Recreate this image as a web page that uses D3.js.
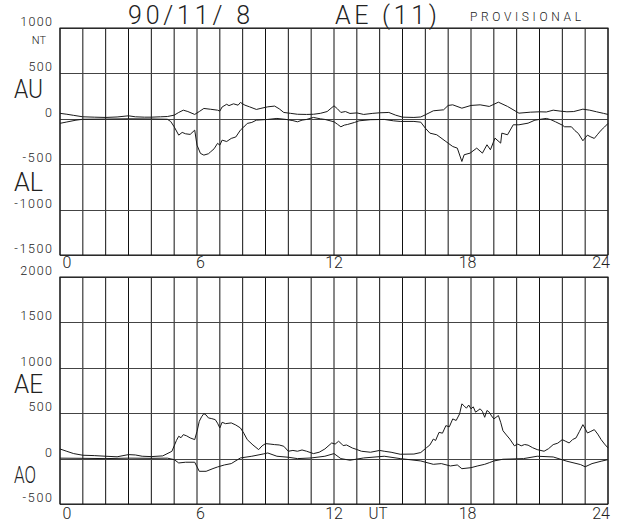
<!DOCTYPE html>
<html><head><meta charset="utf-8">
<script src="https://cdn.jsdelivr.net/npm/d3@7"></script>
<style>body{margin:0;background:#fff}svg{display:block}</style>
</head><body>
<svg id="c" width="631" height="529"></svg>
<script>
// ---- data (hours UT, nT) ----
const hourTicks = [0, 6, 12, 18, 24];
const topTicks = [1000, 500, 0, -500, -1000, -1500];
const botTicks = [2000, 1500, 1000, 500, 0, -500];
const AU = [[0,60],[0.3,50],[0.6,38],[1,22],[1.5,18],[2,15],[2.5,20],[3,33],[3.3,22],[3.7,18],[4,18],[4.4,22],[4.7,25],[5,40],[5.2,70],[5.4,95],[5.6,80],[5.9,48],[6.1,80],[6.3,114],[6.6,105],[6.9,95],[7,85],[7.1,130],[7.3,160],[7.4,145],[7.6,165],[7.8,150],[7.9,180],[8.1,150],[8.3,132],[8.6,103],[8.8,115],[9.1,132],[9.4,140],[9.6,110],[9.8,70],[10.1,60],[10.4,50],[10.8,48],[11.1,50],[11.4,60],[11.7,80],[12,143],[12.15,110],[12.3,70],[12.5,80],[12.7,59],[13,65],[13.3,48],[13.7,60],[14,66],[14.4,70],[14.7,40],[15,18],[15.5,15],[15.8,20],[16,44],[16.35,88],[16.8,99],[17,147],[17.2,154],[17.6,117],[18,147],[18.4,154],[18.8,136],[19.2,183],[19.6,136],[20.1,62],[20.6,73],[21,77],[21.3,75],[21.6,95],[21.9,85],[22.2,77],[22.5,80],[22.9,106],[23.2,95],[23.5,77],[23.8,60],[24,48]];
const AL = [[0,-50],[0.3,-35],[0.7,-15],[1,-5],[2,-3],[3,0],[4,-2],[4.7,-5],[4.85,-30],[5,-88],[5.2,-180],[5.35,-150],[5.5,-165],[5.7,-172],[5.9,-125],[6,-290],[6.15,-381],[6.3,-400],[6.5,-385],[6.6,-363],[6.75,-330],[6.9,-270],[7,-290],[7.1,-235],[7.3,-250],[7.5,-216],[7.7,-200],[7.9,-125],[8.05,-90],[8.2,-51],[8.4,-40],[8.6,-15],[9.1,-7],[9.5,4],[9.9,-7],[10.2,-20],[10.4,-33],[10.6,-15],[10.8,-7],[11.1,15],[11.4,0],[11.6,-7],[12,-33],[12.15,-60],[12.3,-88],[12.45,-70],[12.6,-62],[12.9,-40],[13.1,-22],[13.6,-10],[14.2,-7],[14.6,-22],[14.9,-29],[15.5,-29],[15.8,-37],[16,-103],[16.2,-158],[16.5,-176],[16.9,-250],[17.2,-305],[17.4,-323],[17.6,-470],[17.7,-396],[17.96,-378],[18.25,-323],[18.5,-378],[18.7,-286],[18.85,-341],[19.05,-213],[19.3,-268],[19.35,-158],[19.6,-176],[19.85,-66],[20.1,-66],[20.5,-48],[20.8,-15],[21,-7],[21.3,4],[21.5,-10],[21.7,-33],[22,-70],[22.1,-88],[22.4,-88],[22.55,-130],[22.7,-161],[22.9,-242],[23.1,-180],[23.25,-200],[23.4,-216],[23.55,-170],[23.7,-125],[23.85,-90],[24,-51]];
const AE = [[0,106],[0.3,80],[0.6,55],[1,37],[1.5,33],[2,26],[2.5,20],[3,44],[3.3,40],[3.6,26],[4,22],[4.5,30],[4.9,80],[5.1,200],[5.2,246],[5.3,230],[5.4,264],[5.55,250],[5.7,228],[5.9,209],[6.0,300],[6.1,411],[6.2,460],[6.3,495],[6.4,480],[6.5,448],[6.65,440],[6.8,429],[6.9,390],[7,338],[7.1,400],[7.25,385],[7.5,393],[7.7,370],[7.9,338],[8.05,280],[8.2,209],[8.45,150],[8.7,99],[8.85,140],[9,165],[9.2,160],[9.4,154],[9.6,150],[9.8,136],[10,81],[10.2,90],[10.4,81],[10.6,95],[10.8,81],[11.1,55],[11.35,70],[11.6,106],[11.9,172],[12.05,160],[12.2,191],[12.3,170],[12.4,143],[12.55,150],[12.8,117],[13,100],[13.2,81],[13.6,70],[14,90],[14.2,81],[14.5,70],[14.9,48],[15.5,50],[15.8,67],[16.06,122],[16.2,150],[16.35,215],[16.45,200],[16.6,289],[16.75,280],[16.9,363],[17.05,350],[17.2,437],[17.35,420],[17.5,492],[17.6,603],[17.7,580],[17.8,555],[17.9,590],[18,548],[18.1,570],[18.2,511],[18.4,548],[18.5,520],[18.6,455],[18.7,530],[18.8,511],[18.9,470],[19,437],[19.2,474],[19.3,400],[19.4,307],[19.55,260],[19.7,215],[19.9,141],[20.05,160],[20.2,141],[20.35,155],[20.5,148],[20.7,120],[20.9,99],[21.2,81],[21.4,110],[21.6,154],[21.8,170],[22,209],[22.15,190],[22.3,172],[22.45,210],[22.6,228],[22.75,300],[22.9,374],[23,330],[23.1,282],[23.25,300],[23.4,319],[23.55,270],[23.7,209],[23.85,160],[24,117]];
const AO = [[0,5],[1,3],[2,0],[3,5],[4,3],[4.7,5],[5,-11],[5.2,-48],[5.5,-40],[5.9,-40],[6.1,-140],[6.4,-140],[6.7,-110],[6.9,-92],[7.2,-70],[7.5,-55],[7.9,7],[8.4,26],[8.9,51],[9.1,62],[9.5,26],[10,15],[10.4,0],[11,7],[11.6,26],[12,55],[12.3,0],[12.7,-18],[13.3,7],[14.2,26],[14.9,0],[15.8,-26],[16.35,-63],[16.7,-55],[17.1,-81],[17.4,-70],[17.6,-111],[18,-100],[18.3,-80],[18.6,-63],[18.8,-45],[19,-26],[19.4,-7],[20.3,0],[20.9,26],[21.6,18],[22.2,-29],[22.8,-66],[23,-90],[23.3,-55],[23.7,-29],[24,-11]];

// ---- layout ----
const svg = d3.select("#c");
const FONT = "Roboto, Lato, 'DejaVu Sans', sans-serif";
const ink = "#222";
const x = d3.scaleLinear().domain([0, 24]).range([60, 608]);
const xLab = d3.scaleLinear().domain([0, 24]).range([67, 601]);
const yTop = d3.scaleLinear().domain([-1500, 1000]).range([255, 28]);
const yBot = d3.scaleLinear().domain([-500, 2000]).range([504, 277]);

function txt(s, px, py, size, opts = {}) {
  const t = svg.append("text").attr("x", px).attr("y", py)
    .attr("font-family", FONT).attr("font-size", size)
    .attr("font-weight", opts.weight || 300)
    .attr("fill", ink).attr("text-anchor", opts.anchor || "start").text(s);
  if (opts.len) t.attr("textLength", opts.len).attr("lengthAdjust", opts.adj || "spacingAndGlyphs");
  return t;
}

function tickLen(s) {
  if (s.length < 2) return null;
  let n = 0;
  for (const c of s) n += (c === "-") ? 6 : 8.2;
  return n - 1;
}

function panel(y, ticks, series) {
  const g = svg.append("g");
  g.selectAll(".v").data(d3.range(0, 25)).join("line")
    .attr("x1", d => x(d)).attr("x2", d => x(d))
    .attr("y1", y.range()[1]).attr("y2", y.range()[0])
    .attr("stroke", "#111").attr("stroke-width", 1);
  g.selectAll(".h").data(ticks).join("line")
    .attr("x1", x(0)).attr("x2", x(24))
    .attr("y1", d => Math.round(y(d)) + 0.5).attr("y2", d => Math.round(y(d)) + 0.5)
    .attr("stroke", "#444").attr("stroke-width", 1);
  g.append("rect").attr("x", x(0)).attr("y", y.range()[1])
    .attr("width", x(24) - x(0)).attr("height", y.range()[0] - y.range()[1])
    .attr("fill", "none").attr("stroke", "#111").attr("stroke-width", 1);
  ticks.forEach(v => {
    const s = String(v);
    txt(s, 52, y(v) - 2, 12.5, {anchor: "end", len: tickLen(s), adj: "spacing"});
  });
  const line = d3.line().x(d => x(d[0])).y(d => y(d[1]));
  series.forEach(s => g.append("path").datum(s).attr("d", line)
    .attr("fill", "none").attr("stroke", "#1a1a1a").attr("stroke-width", 1));
}

panel(yTop, topTicks, [AU, AL]);
panel(yBot, botTicks, [AE, AO]);

hourTicks.forEach(h => {
  txt(String(h), xLab(h), 268, 16, {anchor: "middle"});
  txt(String(h), xLab(h), 519, 16, {anchor: "middle"});
});
txt("UT", 378, 519, 16, {anchor: "middle", len: 19});

txt("90/11/ 8", 128, 24, 25, {len: 122, adj: "spacing"});
txt("AE (11)", 335, 24, 25, {len: 102, adj: "spacing"});
txt("PROVISIONAL", 470, 21, 12, {len: 111, adj: "spacing"});
txt("NT", 46, 44, 11, {anchor: "end"});

txt("AU", 14, 98, 26, {len: 29});
txt("AL", 14, 191, 26, {len: 29});
txt("AE", 14, 393, 26, {len: 29});
txt("AO", 14, 483, 24, {len: 22});
</script>
</body></html>
